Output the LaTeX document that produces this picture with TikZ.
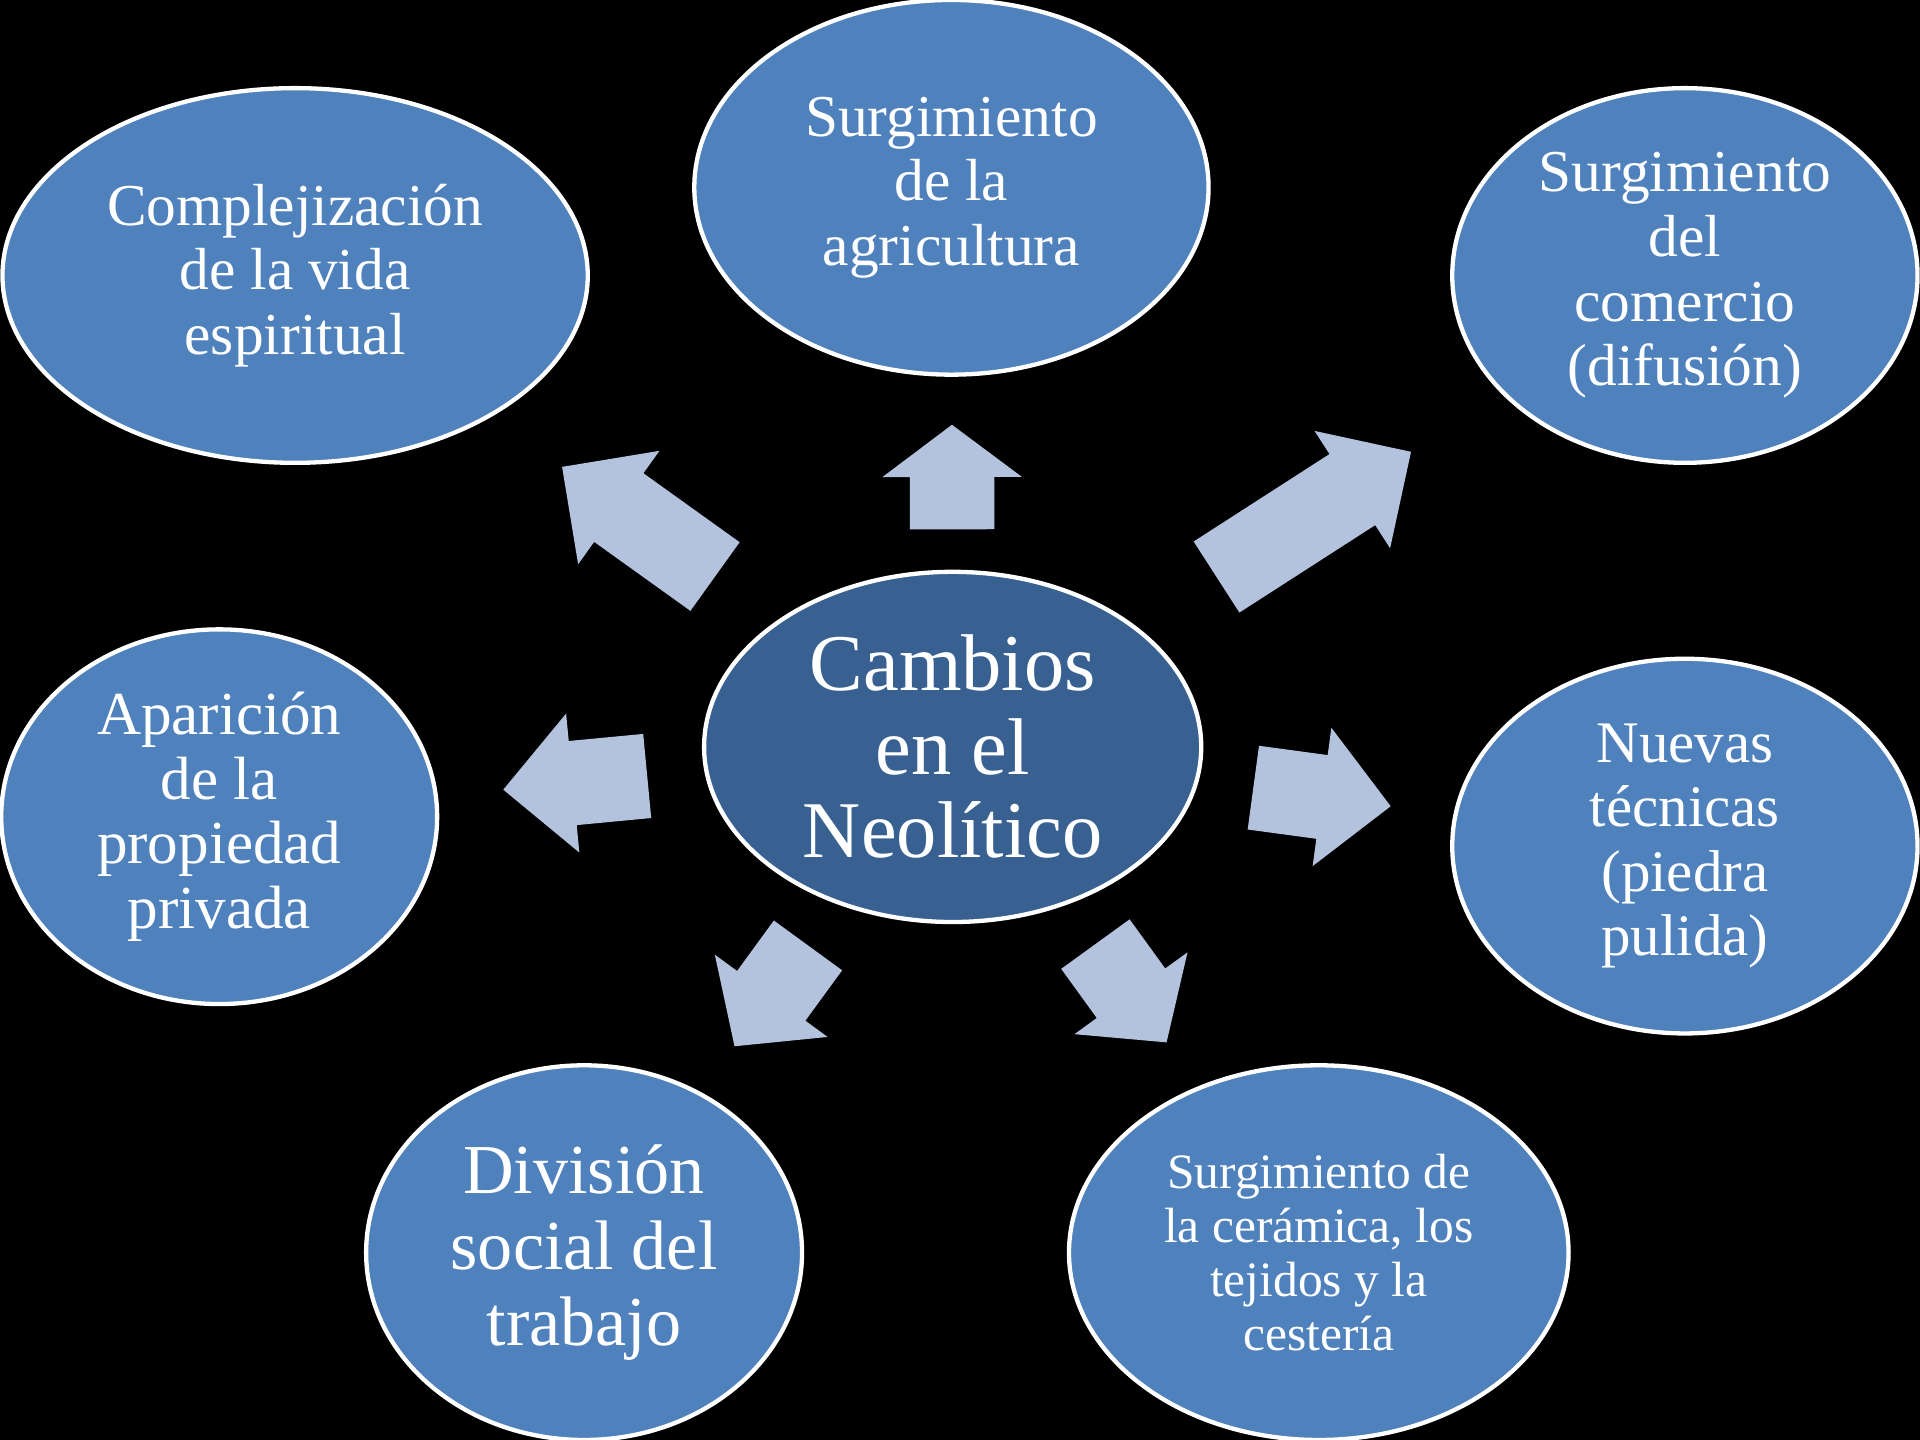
\documentclass[tikz,border=0pt]{standalone}
\usepackage{fontspec}
\setmainfont{Liberation Serif}
\usetikzlibrary{shapes.geometric,calc}
\definecolor{fondo}{RGB}{0,0,0}
\definecolor{azulhoja}{RGB}{79,129,189}
\definecolor{azulcentro}{RGB}{56,97,146}
\definecolor{flechagris}{RGB}{179,194,221}
\tikzset{
  hoja/.style={ellipse, draw=white, line width=1pt, fill=azulhoja, text=white, align=center, inner sep=0pt},
  nucleo/.style={hoja, fill=azulcentro},
  flecha/.pic={
    \pgfmathsetmacro{\cabeza}{min(#1,1.14)/2}
    \fill[flechagris] (0,-0.345) -- (#1-\cabeza,-0.345) -- (#1-\cabeza,-0.57) -- (#1,0)
      -- (#1-\cabeza,0.57) -- (#1-\cabeza,0.345) -- (0,0.345) -- cycle;
  }
}
\begin{document}
\begin{tikzpicture}
\useasboundingbox (0,0) rectangle (15.68,11.76);
\fill[fondo] (0,0) rectangle (15.68,11.76);
% centre
\node[nucleo, minimum width=4.06cm, minimum height=2.86cm, font={\fontsize{18.7}{19.4}\selectfont}] (centro) at (7.78,5.66) {Cambios\\en el\\Neolítico};
% outer ring
\node[hoja, minimum width=4.2cm, minimum height=3.06cm, font={\fontsize{13.8}{15}\selectfont}] (agricultura) at (7.77,10.23) {Surgimiento\\de la\\agricultura};
\node[hoja, minimum width=4.78cm, minimum height=3.06cm, font={\fontsize{13.8}{15}\selectfont}] (espiritual) at (2.41,9.51) {Complejización\\de la vida\\espiritual};
\node[hoja, minimum width=3.8cm, minimum height=3.06cm, font={\fontsize{13.8}{15}\selectfont}] (comercio) at (13.76,9.51) {Surgimiento\\del\\comercio\\(difusión)};
\node[hoja, minimum width=3.56cm, minimum height=3.06cm, font={\fontsize{14.2}{15}\selectfont}] (propiedad) at (1.79,5.09) {Aparición\\de la\\propiedad\\privada};
\node[hoja, minimum width=3.8cm, minimum height=3.06cm, font={\fontsize{13.7}{15}\selectfont}] (tecnicas) at (13.76,4.85) {Nuevas\\técnicas\\(piedra\\pulida)};
\node[hoja, minimum width=3.56cm, minimum height=3.06cm, font={\fontsize{16.3}{17.7}\selectfont}] (trabajo) at (4.77,1.53) {División\\social del\\trabajo};
\node[hoja, minimum width=4.08cm, minimum height=3.06cm, font={\fontsize{11.5}{12.5}\selectfont}] (ceramica) at (10.77,1.53) {Surgimiento de\\la cerámica, los\\tejidos y la\\cestería};
% block arrows
\path ($(centro)!1.777cm!(agricultura)$) -- (agricultura.center) pic[pos=0, sloped, allow upside down] {flecha=0.854};
\path ($(centro)!2.388cm!(espiritual)$) -- (espiritual.center) pic[pos=0, sloped, allow upside down] {flecha=1.537};
\path ($(centro)!2.563cm!(comercio)$) -- (comercio.center) pic[pos=0, sloped, allow upside down] {flecha=1.889};
\path ($(centro)!2.506cm!(propiedad)$) -- (propiedad.center) pic[pos=0, sloped, allow upside down] {flecha=1.181};
\path ($(centro)!2.478cm!(tecnicas)$) -- (tecnicas.center) pic[pos=0, sloped, allow upside down] {flecha=1.132};
\path ($(centro)!2.006cm!(trabajo)$) -- (trabajo.center) pic[pos=0, sloped, allow upside down] {flecha=1.019};
\path ($(centro)!1.988cm!(ceramica)$) -- (ceramica.center) pic[pos=0, sloped, allow upside down] {flecha=0.991};
\end{tikzpicture}
\end{document}
